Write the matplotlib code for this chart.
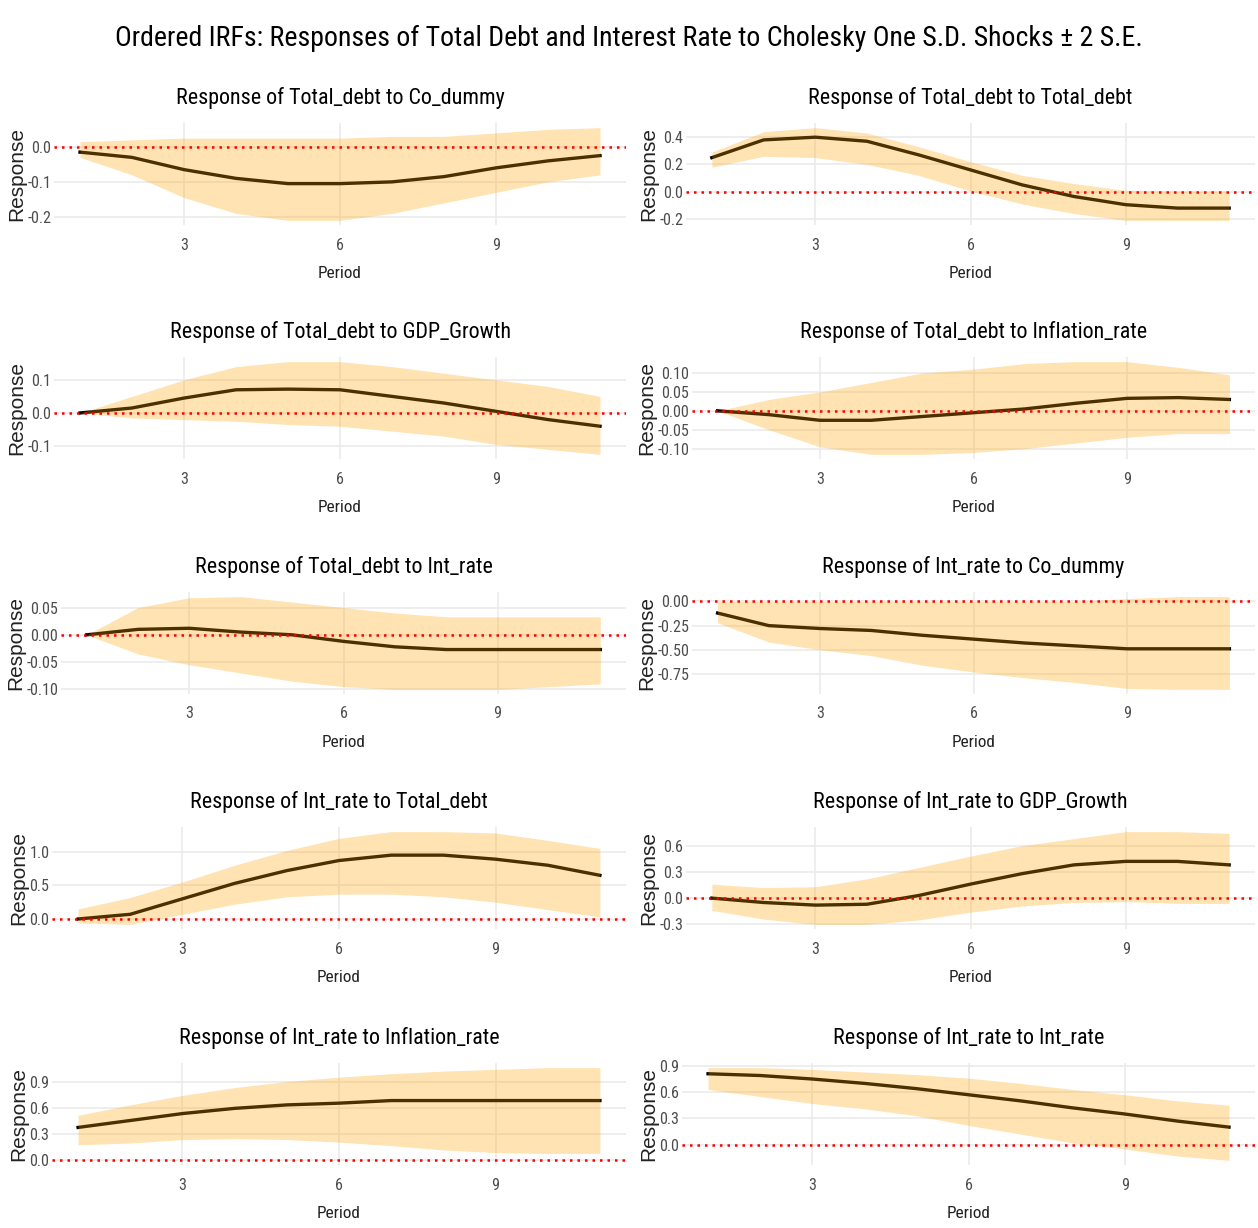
import numpy as np
import matplotlib
matplotlib.use("Agg")
import matplotlib.pyplot as plt
from matplotlib import font_manager

# pick a condensed face if one is installed, like the R plot's narrow font
have = set(f.name for f in font_manager.fontManager.ttflist)
cands = ['Arial Narrow', 'Liberation Sans Narrow', 'Roboto Condensed', 'PT Sans Narrow',
         'Archivo Narrow', 'Open Sans Condensed', 'Liberation Sans']
narrow = [n for n in cands if n in have][:1] + ['DejaVu Sans']
plt.rcParams['font.family'] = narrow
plt.rcParams['axes.unicode_minus'] = False

period = np.arange(1, 12)

main_title = "Ordered IRFs: Responses of Total Debt and Interest Rate to Cholesky One S.D. Shocks ± 2 S.E."
titles = [
    "Response of Total_debt to Co_dummy",
    "Response of Total_debt to Total_debt",
    "Response of Total_debt to GDP_Growth",
    "Response of Total_debt to Inflation_rate",
    "Response of Total_debt to Int_rate",
    "Response of Int_rate to Co_dummy",
    "Response of Int_rate to Total_debt",
    "Response of Int_rate to GDP_Growth",
    "Response of Int_rate to Inflation_rate",
    "Response of Int_rate to Int_rate",
]

# irf point estimates
irf_debt_co = [-0.015, -0.03, -0.065, -0.09, -0.105, -0.105, -0.10, -0.085, -0.06, -0.04, -0.025]
irf_debt_debt = [0.25, 0.38, 0.40, 0.37, 0.27, 0.16, 0.05, -0.035, -0.095, -0.12, -0.12]
irf_debt_gdp = [0.0, 0.015, 0.045, 0.07, 0.072, 0.07, 0.05, 0.03, 0.005, -0.02, -0.04]
irf_debt_infl = [0.0, -0.01, -0.025, -0.025, -0.015, -0.005, 0.005, 0.02, 0.033, 0.035, 0.03]
irf_debt_int = [0.0, 0.01, 0.012, 0.005, 0.0, -0.012, -0.022, -0.027, -0.027, -0.027, -0.027]
irf_int_co = [-0.12, -0.25, -0.28, -0.30, -0.35, -0.39, -0.43, -0.46, -0.49, -0.49, -0.49]
irf_int_debt = [0.0, 0.07, 0.30, 0.53, 0.72, 0.87, 0.95, 0.95, 0.89, 0.80, 0.65]
irf_int_gdp = [0.0, -0.05, -0.08, -0.07, 0.03, 0.16, 0.28, 0.38, 0.42, 0.42, 0.38]
irf_int_infl = [0.38, 0.46, 0.54, 0.60, 0.64, 0.66, 0.69, 0.69, 0.69, 0.69, 0.69]
irf_int_int = [0.81, 0.79, 0.75, 0.70, 0.64, 0.57, 0.50, 0.42, 0.35, 0.27, 0.20]

# upper bands
up_debt_co = [0.015, 0.02, 0.025, 0.025, 0.025, 0.025, 0.03, 0.03, 0.04, 0.05, 0.055]
up_debt_debt = [0.29, 0.44, 0.47, 0.43, 0.33, 0.22, 0.12, 0.06, 0.01, 0.005, 0.005]
up_debt_gdp = [0.0, 0.05, 0.10, 0.14, 0.155, 0.155, 0.14, 0.12, 0.10, 0.08, 0.05]
up_debt_infl = [0.0, 0.03, 0.05, 0.075, 0.10, 0.11, 0.125, 0.13, 0.13, 0.115, 0.095]
up_debt_int = [0.0, 0.05, 0.068, 0.07, 0.06, 0.05, 0.04, 0.033, 0.033, 0.033, 0.033]
up_int_co = [0.0, 0.0, 0.0, 0.0, 0.0, 0.0, 0.0, 0.0, 0.03, 0.05, 0.05]
up_int_debt = [0.15, 0.32, 0.55, 0.80, 1.02, 1.20, 1.30, 1.30, 1.28, 1.17, 1.05]
up_int_gdp = [0.16, 0.12, 0.13, 0.22, 0.35, 0.48, 0.60, 0.68, 0.76, 0.76, 0.74]
up_int_infl = [0.52, 0.64, 0.75, 0.84, 0.91, 0.96, 1.00, 1.03, 1.05, 1.07, 1.07]
up_int_int = [0.88, 0.88, 0.86, 0.83, 0.80, 0.76, 0.70, 0.63, 0.57, 0.50, 0.45]

# lower bands
lo_debt_co = [-0.03, -0.08, -0.145, -0.19, -0.21, -0.21, -0.19, -0.16, -0.13, -0.10, -0.08]
lo_debt_debt = [0.18, 0.26, 0.25, 0.20, 0.12, 0.005, -0.09, -0.16, -0.21, -0.21, -0.21]
lo_debt_gdp = [0.0, -0.015, -0.02, -0.025, -0.035, -0.04, -0.055, -0.07, -0.095, -0.11, -0.125]
lo_debt_infl = [0.0, -0.05, -0.095, -0.115, -0.115, -0.11, -0.10, -0.085, -0.07, -0.06, -0.06]
lo_debt_int = [0.0, -0.035, -0.055, -0.07, -0.085, -0.095, -0.10, -0.10, -0.10, -0.095, -0.09]
lo_int_co = [-0.22, -0.42, -0.50, -0.56, -0.66, -0.73, -0.79, -0.84, -0.90, -0.91, -0.91]
lo_int_debt = [-0.06, -0.08, 0.07, 0.22, 0.33, 0.37, 0.37, 0.33, 0.25, 0.14, 0.03]
lo_int_gdp = [-0.14, -0.24, -0.30, -0.30, -0.25, -0.16, -0.09, -0.05, -0.04, -0.06, -0.06]
lo_int_infl = [0.18, 0.20, 0.24, 0.25, 0.24, 0.21, 0.17, 0.12, 0.09, 0.08, 0.08]
lo_int_int = [0.63, 0.55, 0.47, 0.41, 0.33, 0.22, 0.12, 0.02, -0.05, -0.13, -0.18]

irfs = [irf_debt_co, irf_debt_debt, irf_debt_gdp, irf_debt_infl, irf_debt_int,
        irf_int_co, irf_int_debt, irf_int_gdp, irf_int_infl, irf_int_int]
uppers = [up_debt_co, up_debt_debt, up_debt_gdp, up_debt_infl, up_debt_int,
          up_int_co, up_int_debt, up_int_gdp, up_int_infl, up_int_int]
lowers = [lo_debt_co, lo_debt_debt, lo_debt_gdp, lo_debt_infl, lo_debt_int,
          lo_int_co, lo_int_debt, lo_int_gdp, lo_int_infl, lo_int_int]

y_ticks = [
    ([-0.2, -0.1, 0.0], "%.1f"),
    ([-0.2, 0.0, 0.2, 0.4], "%.1f"),
    ([-0.1, 0.0, 0.1], "%.1f"),
    ([-0.10, -0.05, 0.0, 0.05, 0.10], "%.2f"),
    ([-0.10, -0.05, 0.0, 0.05], "%.2f"),
    ([-0.75, -0.5, -0.25, 0.0], "%.2f"),
    ([0.0, 0.5, 1.0], "%.1f"),
    ([-0.3, 0.0, 0.3, 0.6], "%.1f"),
    ([0.0, 0.3, 0.6, 0.9], "%.1f"),
    ([0.0, 0.3, 0.6, 0.9], "%.1f"),
]

# layout in pixels
W, H = 1258, 1228
row_top = [123, 357, 592, 827, 1063]
row_h = 102
lefts = [54, 686, 54, 692, 61, 692, 52, 686, 52, 682]
rights = [626, 1255]

fig = plt.figure(figsize=(W / 100, H / 100), dpi=100)
renderer = fig.canvas.get_renderer()


def fit_size(text, size, target_px):
    # font size so that the text is about target_px wide
    t = fig.text(0, 0, text, fontsize=size)
    w = t.get_window_extent(renderer).width
    t.remove()
    return size * target_px / w


main_size = fit_size(main_title, 20, 1030)
sub_size = fit_size(titles[0], 16, 330)
lab_size = fit_size("Period", 12, 44)
tick_size = fit_size("-0.2", 10, 24)

fig.text(0.5, 1 - 38 / H, main_title, ha='center', va='center', fontsize=main_size, color='black')

for i in range(10):
    r, c = i // 2, i % 2
    x0 = lefts[i]
    x1 = rights[c]
    ax = fig.add_axes([x0 / W, 1 - (row_top[r] + row_h) / H, (x1 - x0) / W, row_h / H])
    ax.plot(period, irfs[i], color='black', linewidth=2.4, zorder=2)
    ax.fill_between(period, lowers[i], uppers[i], color='orange', alpha=0.3, linewidth=0, zorder=3)
    ax.axhline(0, color='red', linestyle=(0, (1, 2)), linewidth=1.8, zorder=4)

    lo = min(min(lowers[i]), 0)
    hi = max(max(uppers[i]), 0)
    pad = (hi - lo) * 0.05
    ax.set_ylim(lo - pad, hi + pad)
    ax.set_xlim(0.5, 11.5)

    ticks, fmt = y_ticks[i]
    ax.set_yticks(ticks)
    ax.set_yticklabels([fmt % t for t in ticks])
    ax.set_xticks([3, 6, 9])

    for s in ax.spines.values():
        s.set_visible(False)
    ax.grid(True, color='#EBEBEB', linewidth=1.2, zorder=0)
    ax.set_axisbelow(True)
    ax.tick_params(length=0, labelsize=tick_size, colors='#4D4D4D', pad=2)
    ax.tick_params(axis='x', pad=9)

    ax.set_title(titles[i], fontsize=sub_size, pad=14, color='black')
    ax.set_xlabel("Period", fontsize=lab_size, color='#222222', labelpad=10)
    ax.set_ylabel("Response", fontsize=15, color='#222222', family=['Liberation Sans', 'DejaVu Sans'], labelpad=1)

fig.savefig("out.png", dpi=100)
